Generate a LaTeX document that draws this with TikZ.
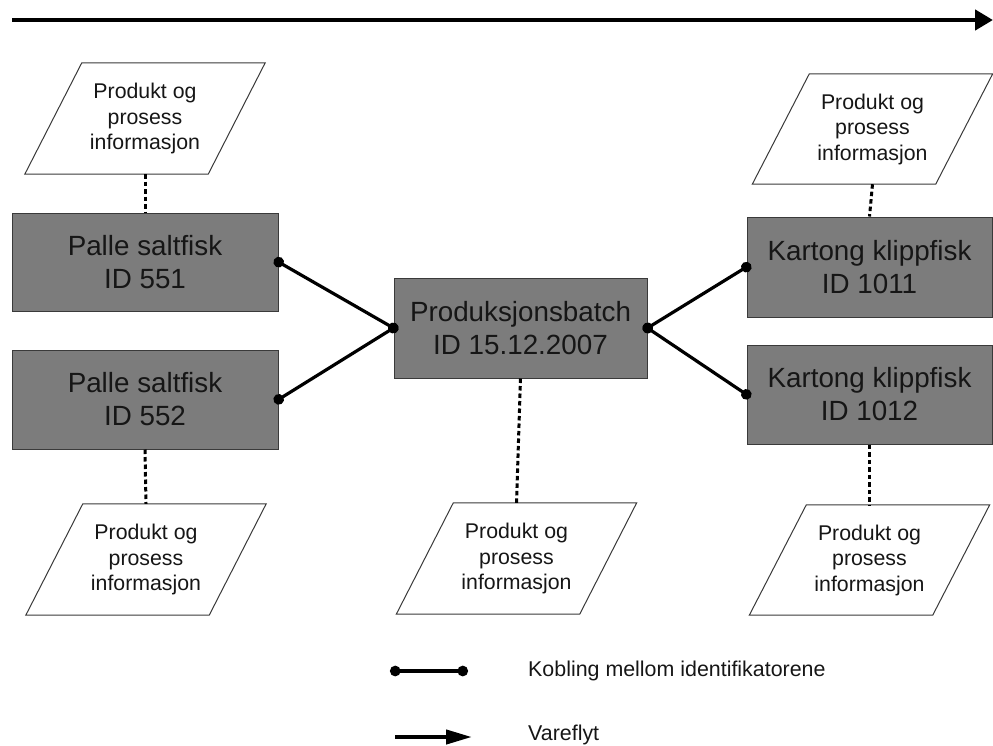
\documentclass[tikz,border=0pt]{standalone}
\usepackage{fontspec}
\setmainfont{Liberation Sans}
\usetikzlibrary{arrows.meta,calc}
\definecolor{boxgray}{HTML}{7C7C7C}
\definecolor{edgegray}{HTML}{3A3A3A}
\definecolor{txt}{HTML}{161616}
\begin{document}
\begin{tikzpicture}[x=1pt,y=-1pt,
  idbox/.style={rectangle, draw=edgegray, line width=1pt, fill=boxgray, text=txt,
    align=center, inner sep=0pt, font=\fontsize{27.8}{33}\selectfont},
  parabox/.style={rectangle, draw=none, inner sep=0pt, minimum width=240pt, minimum height=111pt,
    align=center, text=txt, font=\fontsize{21.3}{25.5}\selectfont},
  parashape/.style={draw=edgegray, line width=1pt, fill=white},
  link/.style={line width=3.2pt, {Circle[length=10.5pt]}-{Circle[length=10.5pt]}, shorten <=-5pt, shorten >=-5pt},
  infoline/.style={line width=3pt, dash pattern=on 4.5pt off 3pt},
  flow/.style={line width=4.5pt, -{Triangle[length=18pt,width=20pt]}},
  legendtxt/.style={anchor=west, inner sep=0pt, text=txt, font=\fontsize{21.4}{25.5}\selectfont}]
\useasboundingbox (0,0) rectangle (993,745);

% flow arrow on top
\coordinate (fs) at (12,20);
\coordinate (fe) at (993,20);
\draw[flow] (fs) -- (fe);

% parallelogram text holders
\node[parabox] (p1) at (145,118.5) {};
\node[parabox] (p2) at (146,559.5) {};
\node[parabox] (p3) at (516.5,558.5) {};
\node[parabox, minimum height=110pt] (p4) at (872.5,129) {};
\node[parabox, minimum height=110pt] (p5) at (869.5,560) {};
\foreach \p in {p1,p2,p3,p4,p5}{
  \draw[parashape] (\p.south west) -- ($(\p.south east)+(-57,0)$) -- (\p.north east)
     -- ($(\p.north west)+(57,0)$) -- cycle;
  \node[parabox] at (\p.center) {Produkt og\\prosess\\informasjon};
}

% id boxes
\node[idbox, minimum width=266pt, minimum height=98pt] (b551) at (145,262) {Palle saltfisk\\ID 551};
\node[idbox, minimum width=266pt, minimum height=99pt] (b552) at (145,399.5) {Palle saltfisk\\ID 552};
\node[idbox, minimum width=253pt, minimum height=100pt] (batch) at (520.5,328) {Produksjonsbatch\\ID 15.12.2007};
\node[idbox, minimum width=245pt, minimum height=100pt] (k1011) at (869.5,267) {Kartong klippfisk\\ID 1011};
\node[idbox, minimum width=245pt, minimum height=99pt] (k1012) at (869.5,394.5) {Kartong klippfisk\\ID 1012};

% dotted info lines
\draw[infoline] (p1.south) -- (b551.north);
\draw[infoline] (b552.south) -- (p2.north);
\draw[infoline] (batch.south) -- (p3.north);
\draw[infoline] (p4.south) -- (k1011.north);
\draw[infoline] (k1012.south) -- (p5.north);

% links
\draw[link] (b551.east) -- (batch.west);
\draw[link] (b552.east) -- (batch.west);
\draw[link] (batch.east) -- (k1011.west);
\draw[link] (batch.east) -- (k1012.west);

% legend
\coordinate (l1a) at (395,671);
\coordinate (l1b) at (463,671);
\draw[link] (l1a) -- (l1b);
\node[legendtxt] (lt1) at (528,671) {Kobling mellom identifikatorene};
\coordinate (l2a) at (395,737);
\coordinate (l2b) at (472,737);
\draw[line width=4.2pt, -{Triangle[length=26pt,width=14pt]}] (l2a) -- (l2b);
\node[legendtxt] (lt2) at (528,735) {Vareflyt};
\end{tikzpicture}
\end{document}
